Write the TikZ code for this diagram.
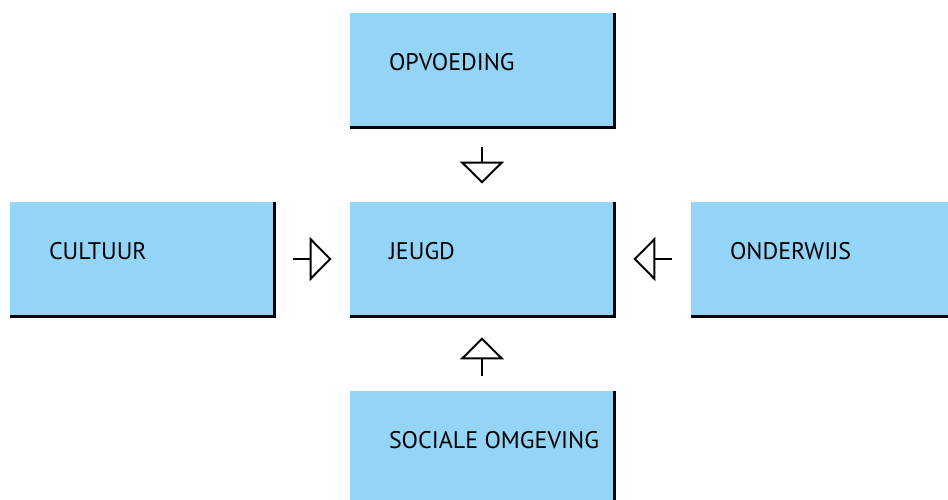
\documentclass[tikz,border=0pt]{standalone}
\usepackage{fontspec}
\setmainfont{PT Sans}
\usetikzlibrary{arrows.meta,positioning}
\definecolor{vakblauw}{RGB}{148,212,246}
\begin{document}
\begin{tikzpicture}[x=0.5pt, y=-0.5pt]
	\tikzset{vak/.style={rectangle, fill=vakblauw, minimum width=132pt, minimum height=57pt, inner sep=0pt}};
	\tikzset{vaktekst/.style={anchor=base west, inner sep=0pt, font=\fontsize{12pt}{14pt}\selectfont}};
	\tikzset{pijl/.style={line width=1pt, -{Triangle[open, length=11pt, width=22pt, line width=1pt]}}};
	\useasboundingbox (0,0) rectangle (948,499);
	\clip (0,0) rectangle (948,499);
	\foreach \x/\y/\naam/\tekst in {482/70/opvoeding/OPVOEDING, 142/259/cultuur/CULTUUR,
	482/259/jeugd/JEUGD, 823/259/onderwijs/ONDERWIJS, 482/448/sociaal/SOCIALE OMGEVING}{
		\node[vak] (\naam) at (\x, \y) {};
		\node[vaktekst] (\naam tekst) at ([xshift=19.5pt, yshift=0pt]\naam.west) {\tekst};
		\draw[line width=1.3pt] (\naam.north east) -- (\naam.south east) -- (\naam.south west);
	}
	\foreach \van/\naar/\s/\e in {opvoeding/jeugd/10pt/9pt, cultuur/jeugd/9.5pt/9pt,
	onderwijs/jeugd/9.5pt/9.5pt, sociaal/jeugd/7.5pt/10.5pt}{
		\draw[pijl, shorten <=\s, shorten >=\e] (\van) -- (\naar);
	}
\end{tikzpicture}
\end{document}
